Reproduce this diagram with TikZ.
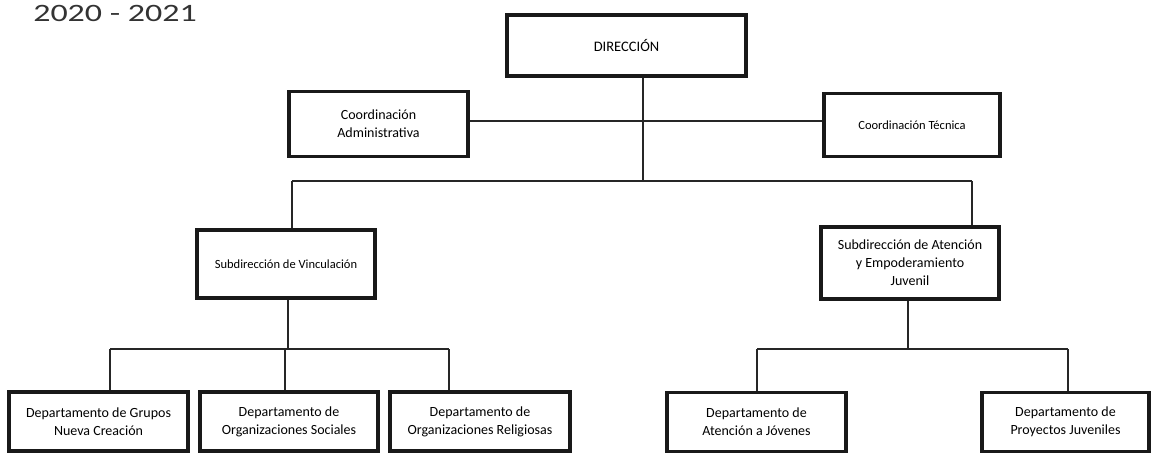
\documentclass[tikz,border=0pt]{standalone}
\usepackage{fontspec}
\setmainfont{Carlito}
\begin{document}
\begin{tikzpicture}[x=1pt,y=-1pt,
  orgbox/.style={draw=black!90, line width=3.5pt, fill=white, align=center,
    inner sep=2pt, font=\fontsize{14}{18}\selectfont},
  smalltext/.style={font=\fontsize{12.5}{16}\selectfont},
  link/.style={draw=black!85, line width=1.1pt}]
\useasboundingbox (0,0) rectangle (1152,456);
\node[anchor=base west, font=\fontsize{25}{30}\selectfont, text=black!80, inner sep=0pt, xscale=1.36, transform shape] (year) at (33,21) {2020 - 2021};

\node[orgbox, font=\fontsize{14.5}{18}\selectfont, minimum width=239pt, minimum height=61pt] (dir) at (626.5,45.5) {DIRECCIÓN};
\node[orgbox, minimum width=179pt, minimum height=65pt] (ca) at (378.5,124) {Coordinación\\Administrativa};
\node[orgbox, smalltext, minimum width=176pt, minimum height=63pt] (ct) at (912,125) {Coordinación Técnica};
\node[orgbox, smalltext, minimum width=178pt, minimum height=68pt] (sv) at (286,264) {Subdirección de Vinculación};
\node[orgbox, minimum width=178pt, minimum height=72pt] (sa) at (910,263) {Subdirección de Atención\\y Empoderamiento\\Juvenil};
\node[orgbox, minimum width=179pt, minimum height=59pt] (d1) at (98.5,421.5) {Departamento de Grupos\\Nueva Creación};
\node[orgbox, minimum width=178pt, minimum height=59pt] (d2) at (289,421.5) {Departamento de\\Organizaciones Sociales};
\node[orgbox, minimum width=180pt, minimum height=59pt] (d3) at (480,421.5) {Departamento de\\Organizaciones Religiosas};
\node[orgbox, minimum width=179pt, minimum height=59pt] (d4) at (756.5,422) {Departamento de\\Atención a Jóvenes};
\node[orgbox, minimum width=167pt, minimum height=59pt] (d5) at (1065.5,422) {Departamento de\\Proyectos Juveniles};

% coordination line
\coordinate (cl) at (643,121);
\draw[link] (ca.east |- cl) -- (ct.west |- cl);
% main bus
\coordinate (m) at (643,181);
\coordinate (ml) at (292,181);
\coordinate (mr) at (972,181);
\draw[link] (dir.south -| m) -- (m);
\draw[link] (ml) -- (mr);
\draw[link] (ml) -- (ml |- sv.north);
\draw[link] (mr) -- (mr |- sa.north);
% left bus
\coordinate (lv) at (288,349);
\coordinate (l1) at (110,349);
\coordinate (l2) at (285,349);
\coordinate (l3) at (449,349);
\draw[link] (sv.south -| lv) -- (lv);
\draw[link] (l1) -- (l3);
\draw[link] (l1) -- (l1 |- d1.north);
\draw[link] (l2) -- (l2 |- d2.north);
\draw[link] (l3) -- (l3 |- d3.north);
% right bus
\coordinate (rv) at (908,349);
\coordinate (r1) at (757,349);
\coordinate (r2) at (1068,349);
\draw[link] (sa.south -| rv) -- (rv);
\draw[link] (r1) -- (r2);
\draw[link] (r1) -- (r1 |- d4.north);
\draw[link] (r2) -- (r2 |- d5.north);
\end{tikzpicture}
\end{document}
